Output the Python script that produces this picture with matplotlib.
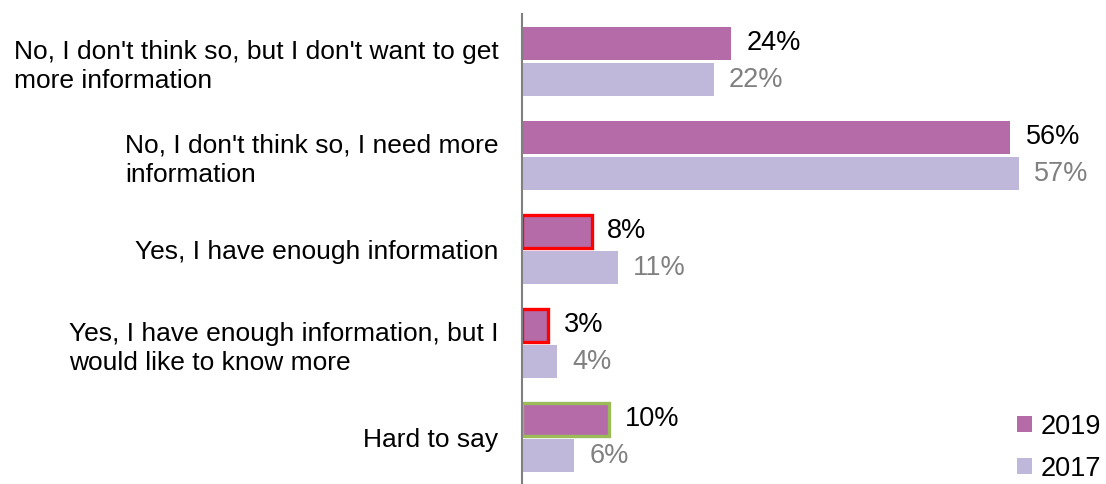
import matplotlib
matplotlib.use("Agg")
import matplotlib.pyplot as plt
import numpy as np

plt.rcParams["font.family"] = ["Liberation Sans", "DejaVu Sans"]

# data
categories = [
    "No, I don't think so, but I don't want to get\nmore information",
    "No, I don't think so, I need more\ninformation",
    "Yes, I have enough information",
    "Yes, I have enough information, but I\nwould like to know more",
    "Hard to say",
]
vals_2019 = [24, 56, 8, 3, 10]
vals_2017 = [22, 57, 11, 4, 6]
edge_2019 = ["none", "none", "#FF0000", "#FF0000", "#9BBB59"]

c2019 = "#B56BA8"
c2017 = "#BFB8DB"

fig = plt.figure(figsize=(11.06, 4.84), dpi=100)
ax = fig.add_axes([522 / 1106, 0, 584 / 1106, 470 / 484])

y = np.arange(len(categories))
h = 0.35
b1 = ax.barh(y - 0.19, vals_2019, height=h, color=c2019, label="2019")
b2 = ax.barh(y + 0.20, vals_2017, height=h, color=c2017, label="2017")

for bar, ec in zip(b1, edge_2019):
    if ec != "none":
        bar.set_edgecolor(ec)
        bar.set_linewidth(2.4)

for bar, v in zip(b1, vals_2019):
    ax.annotate(f"{v}%", (v, bar.get_y() + bar.get_height() / 2),
                xytext=(11, 0), textcoords="offset points",
                va="center", ha="left", fontsize=19.5, color="black")
for bar, v in zip(b2, vals_2017):
    ax.annotate(f"{v}%", (v, bar.get_y() + bar.get_height() / 2),
                xytext=(11, 0), textcoords="offset points",
                va="center", ha="left", fontsize=19.5, color="#808080")

ax.set_xlim(0, 584 / 8.72)
ax.set_ylim(len(categories) - 0.5, -0.5)
ax.set_yticks(y)
ax.set_yticklabels(categories, fontsize=19, multialignment="left", linespacing=1.3)
ax.tick_params(axis="y", length=0, pad=17)
ax.set_xticks([])

for s in ["top", "right", "bottom"]:
    ax.spines[s].set_visible(False)
ax.spines["left"].set_color("#808080")
ax.spines["left"].set_linewidth(1.5)

ax.legend(loc="lower right", frameon=False, fontsize=19.5,
          handlelength=0.55, handleheight=0.55, handletextpad=0.3,
          labelspacing=0.6, borderaxespad=0.0,
          bbox_to_anchor=(1.005, -0.018), bbox_transform=fig.transFigure)

fig.savefig("out.png", dpi=100)
